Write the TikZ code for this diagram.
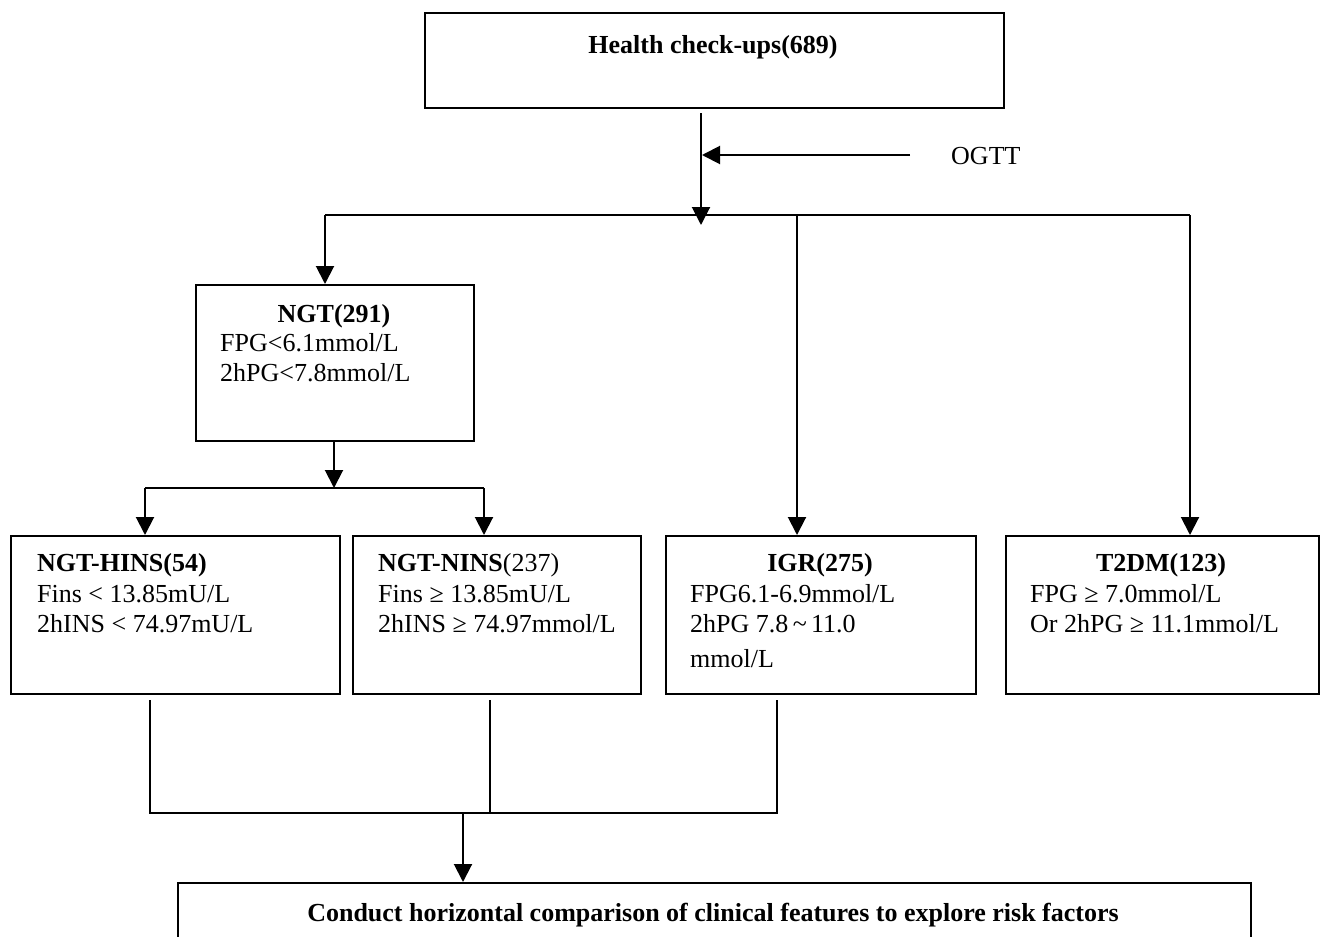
\documentclass[tikz,border=0pt]{standalone}
\usepackage{fontspec}
\setmainfont{Liberation Serif}
\usetikzlibrary{arrows.meta}
\begin{document}
\begin{tikzpicture}[x=1pt,y=-1pt,
  box/.style={draw, line width=2.4pt, inner sep=0pt, anchor=north west},
  ln/.style={line width=2pt},
  arr/.style={line width=2pt, -{Triangle[length=18pt,width=18pt]}},
  txt/.style={inner sep=0pt, font=\fontsize{26}{31}\selectfont},
  bt/.style={inner sep=0pt, font=\fontsize{26}{31}\selectfont\bfseries},
]
\useasboundingbox (0,0) rectangle (1320,937);
\clip (0,0) rectangle (1320,937);
% boxes
\node[box, minimum width=579pt, minimum height=95pt] (top) at (424,12) {};
\node[box, minimum width=278pt, minimum height=156pt] (ngt) at (195,284) {};
\node[box, minimum width=329pt, minimum height=158pt] (hins) at (10,535) {};
\node[box, minimum width=288pt, minimum height=158pt] (nins) at (352,535) {};
\node[box, minimum width=310pt, minimum height=158pt] (igr) at (665,535) {};
\node[box, minimum width=313pt, minimum height=158pt] (t2dm) at (1005,535) {};
\node[box, minimum width=1073pt, minimum height=80pt] (conc) at (177,882) {};
% texts
\node[bt, anchor=base] (topT) at (713,53) {Health check-ups(689)};
\node[txt, anchor=base west] (ogtt) at (951,164) {OGTT};
\node[bt, anchor=base] (ngtT) at (334,322) {NGT(291)};
\node[txt, anchor=base west] (ngt1) at (220,351) {FPG<6.1mmol/L};
\node[txt, anchor=base west] (ngt2) at (220,381) {2hPG<7.8mmol/L};
\node[bt, anchor=base west] (hinsT) at (37,571) {NGT-HINS(54)};
\node[txt, anchor=base west] (hins1) at (37,602) {Fins < 13.85mU/L};
\node[txt, anchor=base west] (hins2) at (37,632) {2hINS < 74.97mU/L};
\node[txt, anchor=base west] (ninsT) at (378,571) {\textbf{NGT-NINS}(237)};
\node[txt, anchor=base west] (nins1) at (378,602) {Fins ≥ 13.85mU/L};
\node[txt, anchor=base west] (nins2) at (378,632) {2hINS ≥ 74.97mmol/L};
\node[bt, anchor=base] (igrT) at (820,571) {IGR(275)};
\node[txt, anchor=base west] (igr1) at (690,602) {FPG6.1-6.9mmol/L};
\node[txt, anchor=base west] (igr2) at (690,632) {2hPG 7.8\,\textasciitilde\,11.0};
\node[txt, anchor=base west] (igr3) at (690,667) {mmol/L};
\node[bt, anchor=base] (t2dmT) at (1161,571) {T2DM(123)};
\node[txt, anchor=base west] (t2dm1) at (1030,602) {FPG ≥ 7.0mmol/L};
\node[txt, anchor=base west] (t2dm2) at (1030,632) {Or 2hPG ≥ 11.1mmol/L};
\node[bt, anchor=base] (concT) at (713,921) {Conduct horizontal comparison of clinical features to explore risk factors};
% connectors
\coordinate (c0) at (701,113);
\coordinate (s0) at (701,225);
\coordinate (ogttA) at (910,155);
\coordinate (ogttB) at (702,155);
\draw[arr] (ogttA) -- (ogttB);
\draw[arr] (c0) -- (s0);
\coordinate (sL) at (325,215);
\coordinate (sM) at (797,215);
\coordinate (sR) at (1190,215);
\draw[ln] (sL) -- (sR);
\draw[arr] (sL) -- (sL |- ngt.north);
\draw[arr] (sM) -- (sM |- igr.north);
\draw[arr] (sR) -- (sR |- t2dm.north);
\coordinate (n0) at (334,488);
\coordinate (nL) at (145,488);
\coordinate (nR) at (484,488);
\draw[arr] (n0 |- ngt.south) -- (n0);
\draw[ln] (nL) -- (nR);
\draw[arr] (nL) -- (nL |- hins.north);
\draw[arr] (nR) -- (nR |- nins.north);
\coordinate (m1) at (150,700);
\coordinate (m2) at (490,700);
\coordinate (m3) at (777,700);
\coordinate (b1) at (150,813);
\coordinate (b2) at (490,813);
\coordinate (b3) at (777,813);
\coordinate (bj) at (463,813);
\draw[ln] (m1) -- (b1) -- (b3) -- (m3);
\draw[ln] (m2) -- (b2);
\draw[arr] (bj) -- (bj |- conc.north);
\end{tikzpicture}
\end{document}
